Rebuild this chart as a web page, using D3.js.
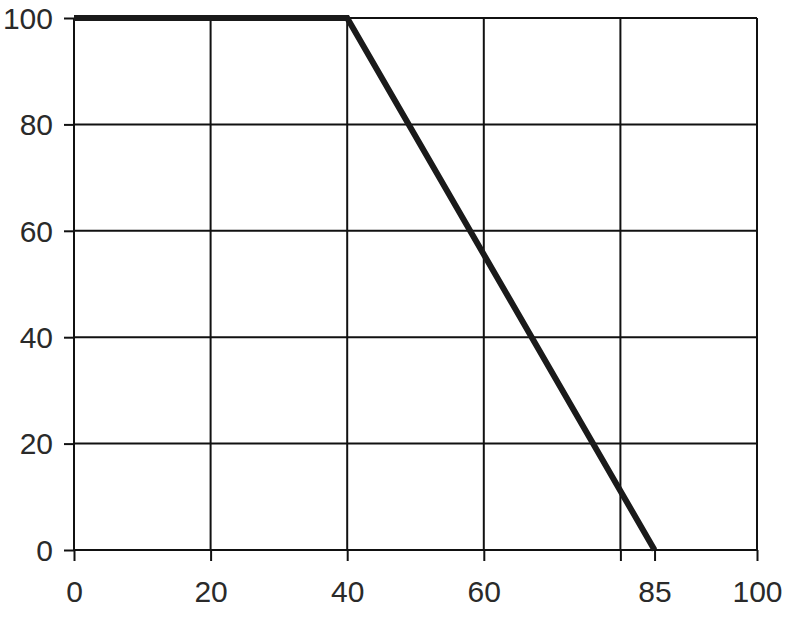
<!DOCTYPE html>
<html>
<head>
<meta charset="utf-8">
<script src="https://cdn.jsdelivr.net/npm/d3@7"></script>
<style>
  html, body { margin: 0; padding: 0; background: #fff; }
  svg { display: block; }
  .tick text { font-family: "Liberation Sans", Arial, sans-serif; font-size: 30px; fill: #2a2a2a; }
</style>
</head>
<body>
<svg id="chart" width="790" height="622"></svg>
<script>
const xValues = [0, 40, 85];
const yValues = [100, 100, 0];
const xTickValues = [0, 20, 40, 60, 80, 85, 100];
const xTickLabels = ["0", "20", "40", "60", "", "85", "100"];
const xGridValues = [0, 20, 40, 60, 80, 100];
const yTickValues = [0, 20, 40, 60, 80, 100];

(function () {
const svg = d3.select("#chart");
const mLeft = 74, mRight = 757, mTop = 18, mBottom = 550;

const x = d3.scaleLinear().domain([0, 100]).range([mLeft, mRight]);
const y = d3.scaleLinear().domain([0, 100]).range([mBottom, mTop]);

// grid
const grid = svg.append("g").attr("stroke", "#111").attr("stroke-width", 2);
grid.selectAll("line.v").data(xGridValues).join("line")
  .attr("class", "v")
  .attr("x1", d => x(d)).attr("x2", d => x(d))
  .attr("y1", y(100)).attr("y2", y(0));
grid.selectAll("line.h").data(yTickValues).join("line")
  .attr("class", "h")
  .attr("x1", x(0)).attr("x2", x(100))
  .attr("y1", d => y(d)).attr("y2", d => y(d));

// axes
const xAxis = d3.axisBottom(x)
  .tickValues(xTickValues)
  .tickFormat((d, i) => xTickLabels[i])
  .tickSize(11).tickPadding(20);
const gx = svg.append("g").attr("transform", `translate(0,${mBottom})`).call(xAxis);
gx.select(".domain").remove();
gx.selectAll(".tick line").attr("stroke", "#111").attr("stroke-width", 2);

const yAxis = d3.axisLeft(y)
  .tickValues(yTickValues)
  .tickFormat(d3.format("d"))
  .tickSize(10).tickPadding(11);
const gy = svg.append("g").attr("transform", `translate(${mLeft},0)`).call(yAxis);
gy.select(".domain").remove();
gy.selectAll(".tick line").attr("stroke", "#111").attr("stroke-width", 2);
gy.selectAll(".tick text").attr("dy", "0.34em");

// data line
const pts = xValues.map((v, i) => [v, yValues[i]]);
svg.append("path")
  .datum(pts)
  .attr("fill", "none")
  .attr("stroke", "#1a1a1a")
  .attr("stroke-width", 6)
  .attr("stroke-linejoin", "miter")
  .attr("d", d3.line().x(d => x(d[0])).y(d => y(d[1])));
})();
</script>
</body>
</html>
